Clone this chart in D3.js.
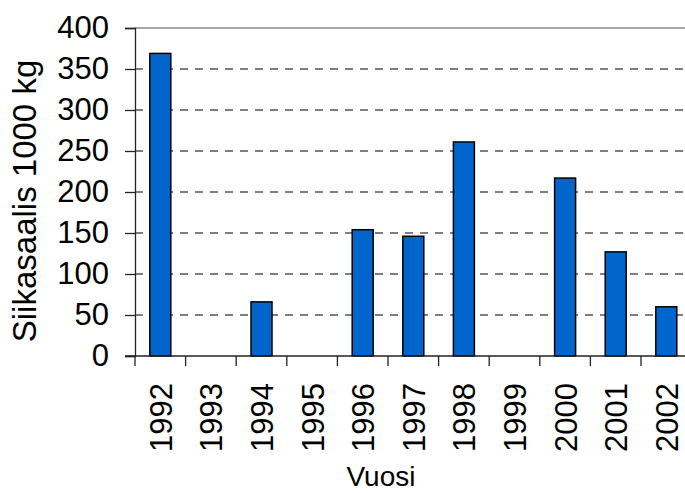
<!DOCTYPE html>
<html>
<head>
<meta charset="utf-8">
<script src="https://cdn.jsdelivr.net/npm/d3@7"></script>
<style>
  body { margin: 0; background: #fff; }
  svg { display: block; font-family: "Liberation Sans", Arial, sans-serif; }
</style>
</head>
<body>
<svg id="chart" width="685" height="493"></svg>
<script>
// data
const years = ['1992','1993','1994','1995','1996','1997','1998','1999','2000','2001','2002']
const catch1000kg = [369, 0, 66, 0, 154, 146, 261, 0, 217, 127, 60]
const yTicks = [0, 50, 100, 150, 200, 250, 300, 350, 400]

const svg = d3.select('#chart')
const plotLeft = 135, plotTop = 28, plotBottom = 356
const band = 50.6
const barColor = '#0066cc'

const x = d3.scaleBand()
	.domain(years)
	.range([plotLeft, plotLeft + band * years.length])
	.paddingInner(0).paddingOuter(0)

const y = d3.scaleLinear()
	.domain([0, 400])
	.range([plotBottom, plotTop])

// gridlines (dashed), top one solid
svg.append('g')
	.selectAll('line')
	.data(yTicks.filter(d => d > 0 && d < 400))
	.join('line')
	.attr('x1', plotLeft).attr('x2', 700)
	.attr('y1', d => y(d)).attr('y2', d => y(d))
	.attr('stroke', '#555')
	.attr('stroke-width', 1.3)
	.attr('stroke-dasharray', '8,7')

svg.append('line')
	.attr('x1', plotLeft).attr('x2', 700)
	.attr('y1', y(400)).attr('y2', y(400))
	.attr('stroke', '#888').attr('stroke-width', 1.3)

// bars
const barW = 21
svg.append('g')
	.selectAll('rect')
	.data(years.map((yr, i) => ({yr: yr, v: catch1000kg[i]})).filter(d => d.v > 0))
	.join('rect')
	.attr('x', d => x(d.yr) + x.bandwidth() / 2 - barW / 2)
	.attr('width', barW)
	.attr('y', d => y(d.v))
	.attr('height', d => y(0) - y(d.v))
	.attr('fill', barColor)
	.attr('stroke', '#000')
	.attr('stroke-width', 1.5)

// y axis
const yAxis = svg.append('g')
	.attr('transform', 'translate(' + plotLeft + ',0)')
	.call(d3.axisLeft(y).tickValues(yTicks).tickSize(10).tickPadding(16))
yAxis.select('.domain').attr('stroke', '#222').attr('stroke-width', 1.3)
yAxis.selectAll('.tick line').attr('stroke', '#222').attr('stroke-width', 1.3)
yAxis.selectAll('text')
	.attr('font-size', 31)
	.attr('font-family', '"Liberation Sans", Arial, sans-serif')
	.attr('fill', '#000')

// x axis: ticks between categories, labels rotated
const xg = svg.append('g')
const edges = years.map(d => x(d)).concat([x.range()[1]])
xg.append('line')
	.attr('x1', plotLeft - 10).attr('x2', 700)
	.attr('y1', plotBottom).attr('y2', plotBottom)
	.attr('stroke', '#222').attr('stroke-width', 1.3)
xg.selectAll('.tk')
	.data(edges)
	.join('line')
	.attr('class', 'tk')
	.attr('x1', d => d).attr('x2', d => d)
	.attr('y1', plotBottom).attr('y2', plotBottom + 10)
	.attr('stroke', '#222').attr('stroke-width', 1.3)
xg.selectAll('text')
	.data(years)
	.join('text')
	.attr('transform', d => 'translate(' + (x(d) + x.bandwidth() / 2 + 11.5) + ',' + (plotBottom + 27) + ') rotate(-90)')
	.attr('text-anchor', 'end')
	.attr('font-size', 31)
	.attr('fill', '#000')
	.text(d => d)

// axis titles
svg.append('text')
	.attr('transform', 'translate(36,201) rotate(-90)')
	.attr('text-anchor', 'middle')
	.attr('font-size', 33)
	.text('Siikasaalis 1000 kg')

svg.append('text')
	.attr('x', 381).attr('y', 486)
	.attr('text-anchor', 'middle')
	.attr('font-size', 28)
	.text('Vuosi')
</script>
</body>
</html>
